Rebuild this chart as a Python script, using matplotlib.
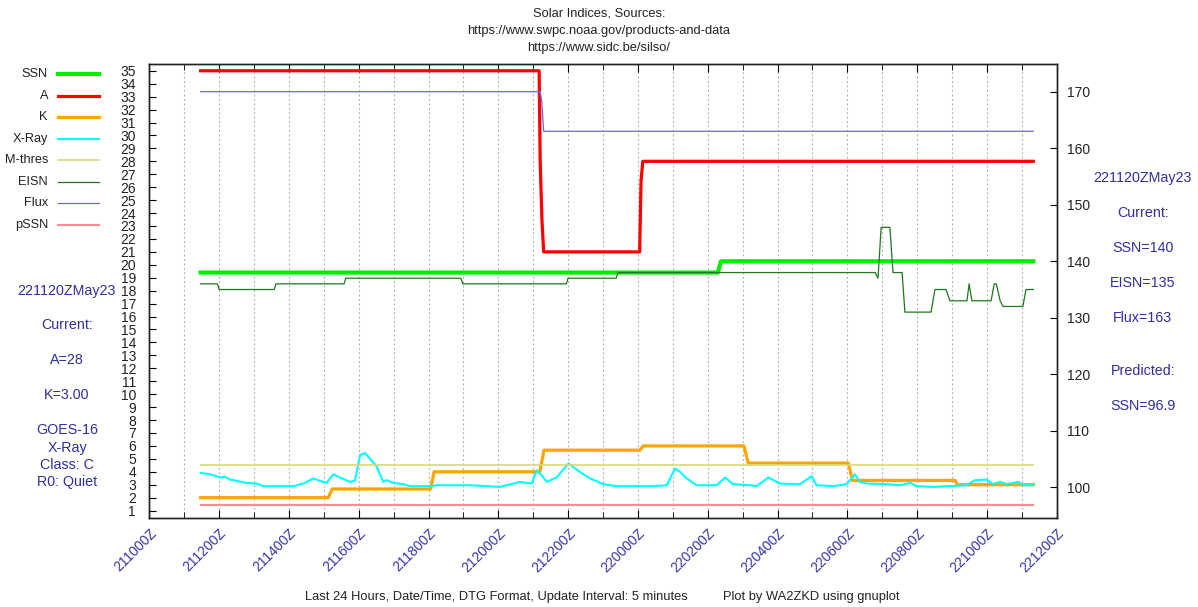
import numpy as np
import matplotlib
matplotlib.use("Agg")
import matplotlib.pyplot as plt
from matplotlib.lines import Line2D

plt.rcParams['font.family'] = ['Liberation Sans', 'DejaVu Sans']

W, H = 1198, 607

# ---- data (x in hours after 211000Z) ----
x_labels = ["211000Z", "211200Z", "211400Z", "211600Z", "211800Z", "212000Z", "212200Z",
            "220000Z", "220200Z", "220400Z", "220600Z", "220800Z", "221000Z", "221200Z"]

ssn_x = [1.47, 16.29, 16.38, 25.33]
ssn_y = [138, 138, 140, 140]

a_x = [1.47, 11.17, 11.20, 11.25, 11.30, 14.05, 14.09, 14.14, 25.33]
a_y = [35, 35, 28, 23.5, 21, 21, 26.5, 28, 28]

k_x = [1.47, 5.13, 5.24, 8.06, 8.16, 11.19, 11.31, 14.06, 14.15, 17.04, 17.16,
       20.03, 20.15, 23.09, 23.15, 25.33]
k_y = [2, 2, 2.67, 2.67, 4, 4, 5.67, 5.67, 6, 6, 4.67, 4.67, 3.33, 3.33, 3, 3]

xray_x = [1.47, 1.74, 2.03, 2.17, 2.31, 2.50, 2.79, 3.08, 3.27, 3.46, 4.13, 4.41, 4.70,
          4.89, 5.08, 5.27, 5.46, 5.75, 5.89, 6.04, 6.18, 6.32, 6.52, 6.70, 6.80, 6.99,
          7.28, 7.47, 8.04, 8.23, 8.71, 9.19, 9.67, 10.05, 10.24, 10.62, 10.96, 11.10,
          11.24, 11.39, 11.67, 12.01, 12.34, 12.63, 13.01, 13.39, 14.44, 14.83, 15.06,
          15.21, 15.40, 15.68, 16.26, 16.50, 16.73, 17.21, 17.40, 17.74, 18.07, 18.64,
          18.98, 19.12, 19.60, 19.98, 20.22, 20.36, 20.56, 21.13, 21.51, 21.80, 21.99,
          22.46, 22.94, 23.42, 23.66, 23.99, 24.18, 24.38, 24.57, 24.90, 25.04, 25.33]
xray_y = [3.91, 3.81, 3.56, 3.61, 3.40, 3.30, 3.14, 3.09, 2.89, 2.89, 2.89, 3.09, 3.48,
          3.30, 3.14, 3.81, 3.56, 3.22, 3.30, 5.28, 5.46, 5.03, 4.38, 3.22, 3.35, 3.14,
          3.04, 2.89, 2.89, 2.96, 2.96, 2.96, 2.89, 2.83, 2.96, 3.22, 3.09, 4.12, 3.74,
          3.22, 3.56, 4.64, 3.99, 3.48, 3.04, 2.89, 2.89, 2.96, 4.25, 3.99, 3.48, 2.96,
          2.96, 3.56, 3.04, 2.96, 2.89, 3.56, 3.09, 3.04, 3.66, 2.96, 2.89, 3.04, 3.81,
          3.22, 3.09, 3.04, 2.96, 3.14, 2.89, 2.83, 2.89, 2.96, 3.35, 3.40, 3.04, 3.22,
          3.04, 3.22, 2.96, 2.96]

mthres_x = [1.47, 25.33]
mthres_y = [4.5, 4.5]

eisn_x = [1.47, 1.95, 2.00, 3.58, 3.63, 5.58, 5.63, 8.93, 8.98, 11.95, 12.00, 13.38,
          13.43, 20.80, 20.88, 20.97, 21.22, 21.31, 21.57, 21.65, 22.40, 22.51, 22.83,
          22.94, 23.43, 23.49, 23.57, 24.12, 24.21, 24.27, 24.38, 24.46, 25.03, 25.12, 25.33]
eisn_y = [136, 136, 135, 135, 136, 136, 137, 137, 136, 136, 137, 137,
          138, 138, 137, 146, 146, 138, 138, 131, 131, 135, 135,
          133, 133, 136, 133, 133, 136, 136, 133, 132, 132, 135, 135]

flux_x = [1.47, 11.20, 11.25, 11.30, 25.33]
flux_y = [170, 170, 168, 163, 163]

pssn_x = [1.47, 25.33]
pssn_y = [96.9, 96.9]

left_notes = ["221120ZMay23", "Current:", "A=28", "K=3.00", "GOES-16", "X-Ray",
              "Class: C", "R0: Quiet"]
right_notes = ["221120ZMay23", "Current:", "SSN=140", "EISN=135", "Flux=163",
               "Predicted:", "SSN=96.9"]

# ---- figure ----
fig = plt.figure(figsize=(W / 100, H / 100), dpi=100)
fig.patch.set_facecolor('white')
ax = fig.add_axes([149.3 / W, 1 - 517.7 / H, (1056.7 - 149.3) / W, (517.7 - 64.3) / H])
ax2 = ax.twinx()

ax.plot(a_x, a_y, color='#ff0000', lw=2.3)
ax.plot(k_x, k_y, color='#ffa500', lw=2.3)
ax.plot(xray_x, xray_y, color='#00ffff', lw=1.5)
ax.plot(mthres_x, mthres_y, color='#d8d878', lw=1.2)

ax2.plot(ssn_x, ssn_y, color='#00ee00', lw=3.0)
ax2.plot(eisn_x, eisn_y, color='#1e781e', lw=0.9)
ax2.plot(flux_x, flux_y, color='#6666ff', lw=0.9)
ax2.plot(pssn_x, pssn_y, color='#ff8c8c', lw=1.5)

ax.set_xlim(0, 26)
ax.set_ylim(0.45, 35.5)
ax2.set_ylim(94.62, 174.85)

ax.set_xticks(np.arange(0, 27, 2))
ax.set_xticks(np.arange(1, 26, 2), minor=True)
ax.set_xticklabels(x_labels, rotation=45, ha='right', va='top',
                   rotation_mode='anchor', color='#3535a8', fontsize=10)
ax.set_yticks(np.arange(1, 36))
ax.tick_params(axis='y', direction='in', length=5, pad=9.5, labelsize=10,
               labelcolor='#222222', right=False)
ax.tick_params(axis='x', which='both', direction='in', top=True, pad=6)
ax.tick_params(axis='x', which='major', length=6)
ax.tick_params(axis='x', which='minor', length=4)
ax.grid(True, which='both', axis='x', color='#a8a8a8',
        linestyle=(0, (1.5, 2.5)), linewidth=0.8)

ax2.set_yticks(np.arange(100, 171, 10))
ax2.tick_params(axis='y', direction='in', length=5, pad=7.5, labelsize=10,
                labelcolor='#222222')

for a in (ax, ax2):
    for s in a.spines.values():
        s.set_linewidth(1.0)
        s.set_color('#222222')

# ---- title and footer ----
title_lines = ["Solar Indices, Sources:", "https://www.swpc.noaa.gov/products-and-data",
               "https://www.sidc.be/silso/"]
for i, line in enumerate(title_lines):
    fig.text(0.5, 1 - (13.5 + 17.3 * i) / H, line, ha='center', va='center',
             fontsize=9.3, color='#222222')

fig.text(496.5 / W, 1 - 597 / H,
         "Last 24 Hours, Date/Time, DTG Format, Update Interval: 5 minutes",
         ha='center', va='center', fontsize=9.3, color='#222222')
fig.text(811 / W, 1 - 597 / H, "Plot by WA2ZKD using gnuplot",
         ha='center', va='center', fontsize=9.3, color='#222222')

# ---- key on the left ----
key_labels = ["SSN", "A", "K", "X-Ray", "M-thres", "EISN", "Flux", "pSSN"]
key_colors = ['#00ee00', '#ff0000', '#ffa500', '#00ffff', '#d8d878', '#1e781e',
              '#6666ff', '#ff8c8c']
key_widths = [3.0, 2.3, 2.3, 1.5, 1.2, 0.9, 0.9, 1.5]
for i, (lab, col, lw) in enumerate(zip(key_labels, key_colors, key_widths)):
    yy = 1 - (74.3 + 21.5 * i) / H
    fig.text(48 / W, yy, lab, ha='right', va='center', fontsize=9.2, color='#222222')
    fig.add_artist(Line2D([58 / W, 99 / W], [yy, yy], color=col, lw=lw,
                          transform=fig.transFigure))

# ---- status notes ----
note_color = '#2f2fa0'
left_y = [290.7, 325, 360, 395, 430, 448, 465, 482]
for txt, yy in zip(left_notes, left_y):
    fig.text(67 / W, 1 - yy / H, txt, ha='center', va='center', fontsize=10.3,
             color=note_color)
right_y = [178, 213, 248, 283, 318, 371, 406]
for txt, yy in zip(right_notes, right_y):
    fig.text(1142.7 / W, 1 - yy / H, txt, ha='center', va='center', fontsize=10.3,
             color=note_color)

fig.savefig("out.png", dpi=100)
